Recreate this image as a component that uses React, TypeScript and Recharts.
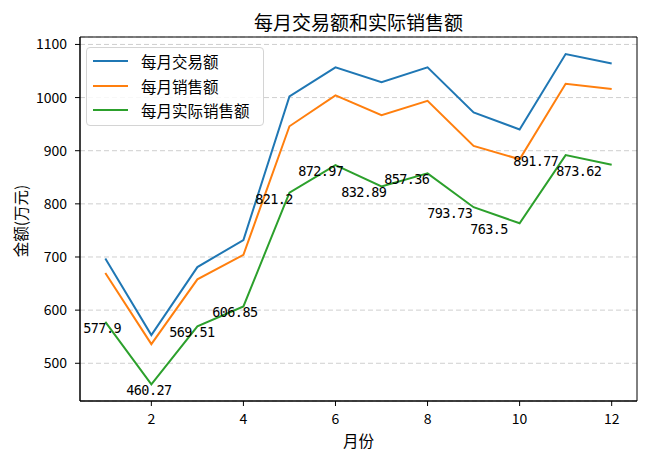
import React from 'react';
import { LineChart, Line, XAxis, YAxis, CartesianGrid, Legend, LabelList, Label, ReferenceArea } from 'recharts';

const months = [1, 2, 3, 4, 5, 6, 7, 8, 9, 10, 11, 12];
const tradeAmount = [697, 553, 681, 732, 1002, 1057, 1029, 1057, 972, 940, 1082, 1064];
const salesAmount = [670, 536, 658, 704, 946, 1004, 967, 994, 909, 884, 1026, 1016];
const actualSales = [577.9, 460.27, 569.51, 606.85, 821.2, 872.97, 832.89, 857.36, 793.73, 763.5, 891.77, 873.62];
const seriesNames = ['每月交易额', '每月销售额', '每月实际销售额'];
const seriesKeys = ['trade', 'sales', 'actual'];
const seriesColors = ['#1f77b4', '#ff7f0e', '#2ca02c'];
const xTicks = [2, 4, 6, 8, 10, 12];
const yTicks = [500, 600, 700, 800, 900, 1000, 1100];
const xDomain = [0.45, 12.55];
const yDomain = [429, 1114];
const titleText = '每月交易额和实际销售额';
const xLabelText = '月份';
const yLabelText = '金额(万元)';

const data = months.map((m, i) => ({
  month: m,
  trade: tradeAmount[i],
  sales: salesAmount[i],
  actual: actualSales[i],
}));

const CJK = '"Noto Sans CJK SC", "Noto Sans", sans-serif';
const MONO = '"DejaVu Sans Mono", "Liberation Mono", monospace';

const renderLegend = () => (
  <div
    style={{
      position: 'relative',
      width: 176,
      height: 77,
      border: '1px solid #d4d4d4',
      borderRadius: 4,
      background: 'rgba(255,255,255,0.85)',
      fontFamily: CJK,
      fontSize: 15.5,
      color: '#000',
    }}
  >
    {seriesNames.map((n, i) => (
      <div
        key={n}
        style={{
          position: 'absolute',
          left: 6,
          top: [13, 38, 62][i] - 12,
          height: 24,
          display: 'flex',
          alignItems: 'center',
          whiteSpace: 'nowrap',
        }}
      >
        <span style={{ display: 'inline-block', width: 35, height: 2, background: seriesColors[i] }} />
        <span style={{ marginLeft: 13, lineHeight: '24px' }}>{n}</span>
      </div>
    ))}
  </div>
);

const renderActualLabel = (props: any) => {
  const { x, y, value, index } = props;
  return (
    <text
      x={x - 22 - 3.05 * index}
      y={y + 11}
      textAnchor="start"
      fontFamily={MONO}
      fontSize={13.5}
      letterSpacing={-0.6}
      fill="#000"
    >
      {value}
    </text>
  );
};

const renderTitle = (props: any) => {
  const vb = props.viewBox || { x: 80, y: 37, width: 557 };
  return (
    <text
      x={vb.x + vb.width / 2}
      y={vb.y - 16}
      textAnchor="middle"
      dominantBaseline="central"
      fontFamily={CJK}
      fontSize={19}
      fill="#000"
    >
      {titleText}
    </text>
  );
};

const renderXLabel = (props: any) => {
  const vb = props.viewBox || { x: 80, width: 557, y: 401 };
  return (
    <text
      x={vb.x + vb.width / 2}
      y={vb.y + 39}
      textAnchor="middle"
      dominantBaseline="central"
      fontFamily={CJK}
      fontSize={15.5}
      fill="#000"
    >
      {xLabelText}
    </text>
  );
};

const renderYLabel = (props: any) => {
  const vb = props.viewBox || { y: 37, height: 364 };
  const cx = 19.5;
  const cy = vb.y + vb.height / 2 + 2;
  return (
    <text
      x={cx}
      y={cy}
      transform={`rotate(-90, ${cx}, ${cy})`}
      textAnchor="middle"
      dominantBaseline="central"
      fontFamily={CJK}
      fontSize={15.5}
      fill="#000"
    >
      {yLabelText}
    </text>
  );
};

export default function App() {
  const tickStyle = { fill: '#000', fontSize: 14, fontFamily: CJK };
  return (
    <div style={{ position: 'absolute', left: 0, top: 0, width: 650, height: 460, background: '#fff' }}>
      <LineChart width={650} height={460} data={data} margin={{ top: 37, right: 13, bottom: 0, left: 0 }}>
        <CartesianGrid vertical={false} stroke="#cfcfcf" strokeDasharray="5 3" />
        <XAxis
          dataKey="month"
          type="number"
          domain={xDomain}
          ticks={xTicks}
          height={59}
          tickSize={5}
          tickMargin={8}
          tick={tickStyle}
          tickLine={{ stroke: '#000' }}
          axisLine={{ stroke: '#000' }}
          allowDataOverflow
        >
          <Label content={renderXLabel} />
        </XAxis>
        <YAxis
          type="number"
          domain={yDomain}
          ticks={yTicks}
          width={80}
          tickSize={5}
          tickMargin={8}
          tick={tickStyle}
          tickLine={{ stroke: '#000' }}
          axisLine={{ stroke: '#000' }}
          allowDataOverflow
        >
          <Label content={renderYLabel} />
        </YAxis>
        <ReferenceArea
          x1={xDomain[0]}
          x2={xDomain[1]}
          y1={yDomain[0]}
          y2={yDomain[1]}
          fill="none"
          fillOpacity={0}
          stroke="#000"
          strokeWidth={1}
          ifOverflow="visible"
          label={renderTitle}
        />
        <Legend
          layout="vertical"
          align="center"
          verticalAlign="middle"
          content={renderLegend}
          wrapperStyle={{ position: 'absolute', left: 86, top: 47, width: 178, height: 79 }}
        />
        {seriesKeys.map((k, i) => (
          <Line
            key={k}
            dataKey={k}
            name={seriesNames[i]}
            type="linear"
            stroke={seriesColors[i]}
            strokeWidth={2}
            dot={false}
            isAnimationActive={false}
          >
            {k === 'actual' ? <LabelList dataKey="actual" content={renderActualLabel} /> : null}
          </Line>
        ))}
      </LineChart>
    </div>
  );
}
